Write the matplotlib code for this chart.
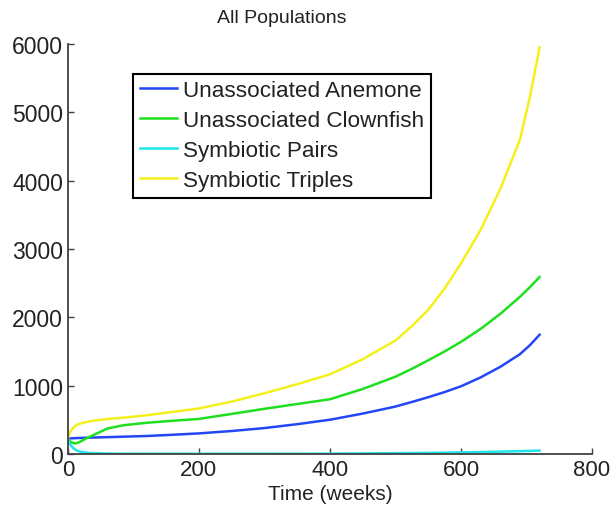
import matplotlib.pyplot as plt

plt.rcParams['font.family'] = ['Liberation Sans', 'DejaVu Sans']

# tempo (semanas) e populacoes
tempo = [0, 2, 5, 10, 15, 20, 30, 40, 60, 85, 120, 160, 200, 250, 300, 350,
         400, 450, 500, 525, 550, 575, 600, 630, 660, 690, 705, 720]

anemone = [225, 226, 228, 230, 232, 234, 237, 240, 245, 252, 262, 280, 300, 335,
           378, 435, 500, 590, 693, 760, 830, 905, 990, 1120, 1275, 1460, 1590, 1745]
clownfish = [225, 195, 172, 155, 160, 185, 235, 280, 370, 420, 455, 485, 512, 585,
             660, 730, 800, 950, 1130, 1245, 1370, 1500, 1640, 1830, 2050, 2300, 2440, 2590]
pairs = [225, 170, 120, 70, 45, 30, 15, 10, 5, 3, 2, 2, 2, 2,
         2, 3, 4, 7, 11, 13, 15, 18, 22, 27, 33, 40, 44, 48]
triples = [225, 285, 345, 400, 430, 448, 470, 487, 510, 530, 565, 615, 665, 765,
           888, 1020, 1165, 1385, 1660, 1870, 2110, 2420, 2790, 3280, 3880, 4600, 5220, 5950]

labels = ['Unassociated Anemone', 'Unassociated Clownfish',
          'Symbiotic Pairs', 'Symbiotic Triples']
cores = ['#2347f5', '#1fe01f', '#1fe5ea', '#f5f01c']

fig = plt.figure(figsize=(6.11, 5.06), dpi=100)
ax = fig.add_axes([0.111, 0.101, 0.858, 0.81])

for serie, lab, c in zip([anemone, clownfish, pairs, triples], labels, cores):
    ax.plot(tempo, serie, color=c, lw=1.8, label=lab)

ax.set_xlim(0, 800)
ax.set_ylim(0, 6000)
ax.set_xticks([0, 200, 400, 600, 800])
ax.set_yticks([0, 1000, 2000, 3000, 4000, 5000, 6000])
ax.spines['top'].set_visible(False)
ax.spines['right'].set_visible(False)
for s in ['left', 'bottom']:
    ax.spines[s].set_color('#404040')
    ax.spines[s].set_linewidth(1.3)
ax.tick_params(direction='in', length=4, width=1, colors='#404040',
               labelcolor='#222222', labelsize=16.5)
ax.tick_params(axis='x', pad=4, labelsize=16)

# titulo um pouco deslocado para a esquerda como no original
ax.text(0.408, 1.0 + 27 / 410, 'All Populations', transform=ax.transAxes,
        ha='center', va='center', fontsize=14, color='#222222')
# rotulo do eixo x
ax.text(0.5, -40 / 410, 'Time (weeks)', transform=ax.transAxes,
        ha='center', va='center', fontsize=15, color='#222222')

leg = ax.legend(loc='upper left', bbox_to_anchor=(0.124, 0.928), fontsize=16.2,
                fancybox=False, framealpha=1, edgecolor='black',
                handlelength=1.65, labelspacing=0.4, borderpad=0.3,
                handletextpad=0.28, borderaxespad=0)
leg.get_frame().set_linewidth(1.5)
for t in leg.get_texts():
    t.set_color('#222222')

plt.savefig('out.png', dpi=100)
